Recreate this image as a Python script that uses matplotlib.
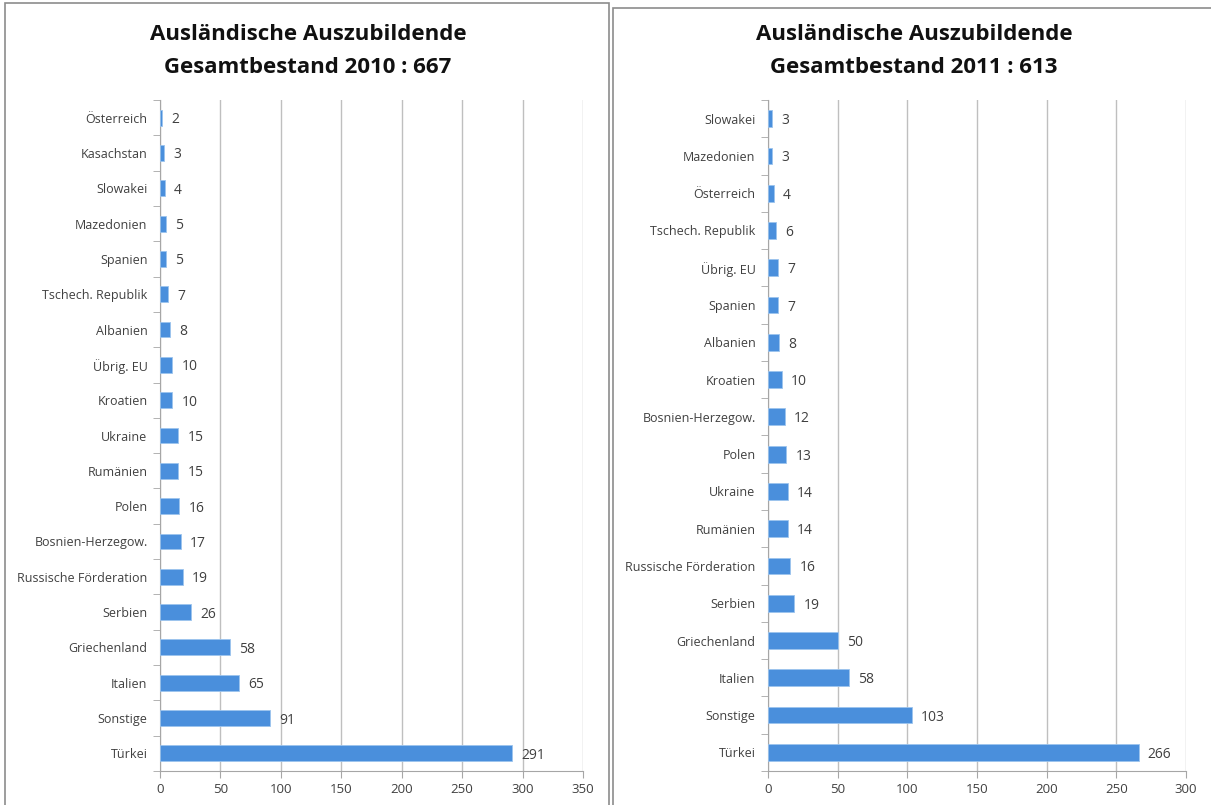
import matplotlib.pyplot as plt
from matplotlib.patches import Rectangle

# data (top to bottom)
laender_2010 = ['Österreich', 'Kasachstan', 'Slowakei', 'Mazedonien', 'Spanien',
                'Tschech. Republik', 'Albanien', 'Übrig. EU', 'Kroatien', 'Ukraine',
                'Rumänien', 'Polen', 'Bosnien-Herzegow.', 'Russische Förderation',
                'Serbien', 'Griechenland', 'Italien', 'Sonstige', 'Türkei']
werte_2010 = [2, 3, 4, 5, 5, 7, 8, 10, 10, 15, 15, 16, 17, 19, 26, 58, 65, 91, 291]

laender_2011 = ['Slowakei', 'Mazedonien', 'Österreich', 'Tschech. Republik', 'Übrig. EU',
                'Spanien', 'Albanien', 'Kroatien', 'Bosnien-Herzegow.', 'Polen',
                'Ukraine', 'Rumänien', 'Russische Förderation', 'Serbien',
                'Griechenland', 'Italien', 'Sonstige', 'Türkei']
werte_2011 = [3, 3, 4, 6, 7, 7, 8, 10, 12, 13, 14, 14, 16, 19, 50, 58, 103, 266]

titel_2010 = 'Ausländische Auszubildende\nGesamtbestand 2010 : 667'
titel_2011 = 'Ausländische Auszubildende\nGesamtbestand 2011 : 613'

plt.rcParams['font.family'] = ['Open Sans', 'DejaVu Sans']

W, H = 1211, 805
fig = plt.figure(figsize=(W / 100, H / 100), dpi=100)

# panel frames
fig.patches.append(Rectangle((5 / W, -0.01), 604 / W, 1 - 3 / H + 0.01,
                             transform=fig.transFigure, fill=False,
                             edgecolor='#8c8c8c', lw=1.2))
fig.patches.append(Rectangle((613 / W, -0.01), 600 / W, 1 - 8 / H + 0.01,
                             transform=fig.transFigure, fill=False,
                             edgecolor='#8c8c8c', lw=1.2))

def draw(rect, laender, werte, xmax, titel, title_x):
    ax = fig.add_axes(rect)
    n = len(laender)
    pos = list(range(n))[::-1]
    ax.barh(pos, werte, height=0.45, color='#4a8fdc', edgecolor='#9cc4ee',
            lw=0.6, zorder=3)
    for p, v in zip(pos, werte):
        ax.text(v + xmax * 0.022, p, str(v), va='center_baseline', ha='left',
                fontsize=10, color='#404040')
    ax.set_ylim(-0.5, n - 0.5)
    ax.set_xlim(0, xmax)
    ax.set_xticks(range(0, xmax + 1, 50))
    ax.set_yticks(pos)
    ax.set_yticklabels(laender, fontsize=9, color='#404040', va='center_baseline')
    ax.set_yticks([i - 0.5 for i in range(n + 1)], minor=True)
    ax.tick_params(axis='y', which='major', length=0, pad=9)
    ax.tick_params(axis='y', which='minor', length=5, color='#a6a6a6')
    ax.tick_params(axis='x', length=5, color='#a6a6a6', labelsize=9.5,
                   labelcolor='#404040')
    ax.grid(axis='x', color='#bfbfbf', lw=1, zorder=0)
    for s in ['top', 'right']:
        ax.spines[s].set_visible(False)
    for s in ['left', 'bottom']:
        ax.spines[s].set_color('#a6a6a6')
    fig.text(title_x, 1 - 51 / H, titel, ha='center', va='center',
             fontsize=16, fontweight='bold', linespacing=1.7, color='#111111')
    return ax

draw([160 / W, 1 - 771 / H, 423 / W, 671 / H], laender_2010, werte_2010, 350,
     titel_2010, 308 / W)
draw([768 / W, 1 - 771 / H, 418 / W, 671 / H], laender_2011, werte_2011, 300,
     titel_2011, 914 / W)

fig.savefig('out.png', dpi=100)
